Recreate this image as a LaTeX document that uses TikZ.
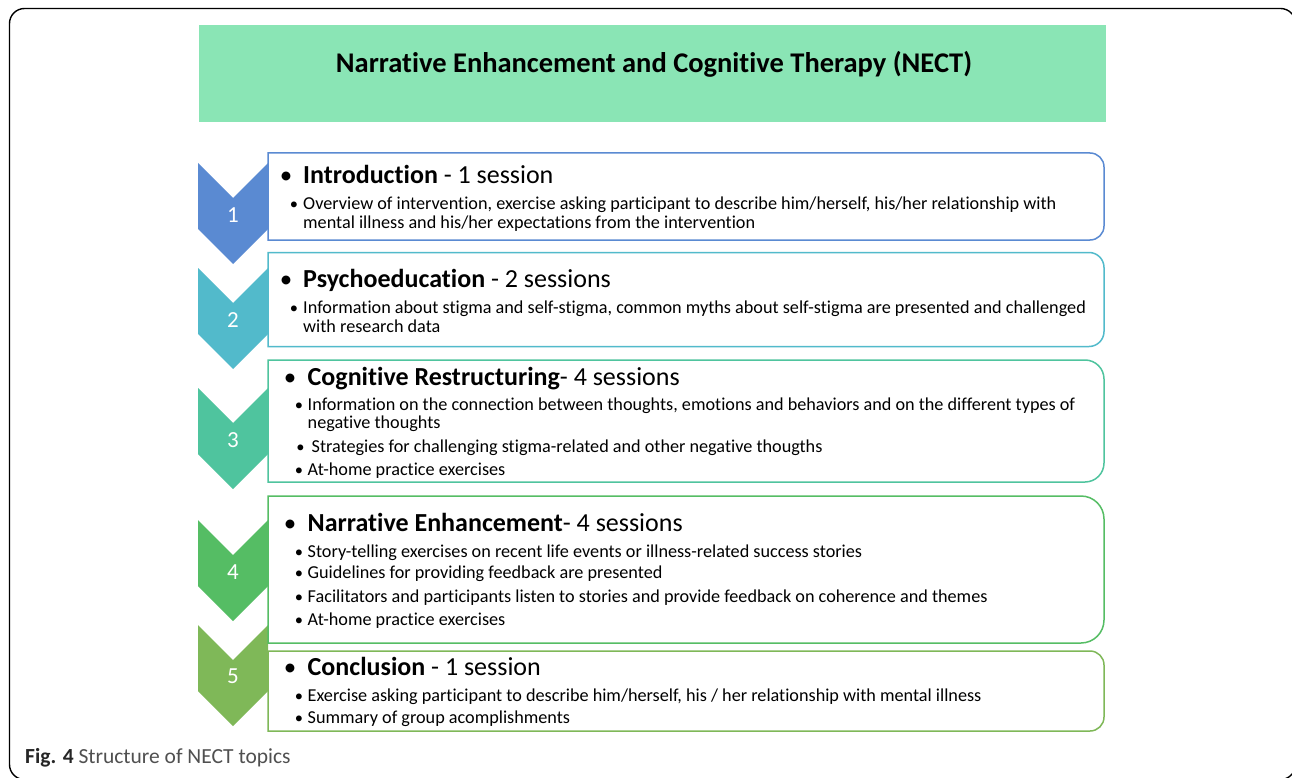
\documentclass[tikz,border=0pt]{standalone}
\usepackage{fontspec}
\setmainfont{Carlito}[Ligatures=NoCommon]
\definecolor{cA}{HTML}{5A8AD2}
\definecolor{cB}{HTML}{52BACB}
\definecolor{cC}{HTML}{4FC49E}
\definecolor{cD}{HTML}{55BD64}
\definecolor{cE}{HTML}{7FB858}
\definecolor{titlebg}{HTML}{8AE5B5}
\definecolor{capgray}{HTML}{505050}
\newcommand\nectbox[6]{%
  \draw[#6, line width=1.5pt, fill=white] (#1,#2) -- ({#3-#5},#2)
    .. controls ({#3-0.448*#5},#2) and (#3,{#2+0.448*#5}) .. (#3,{#2+#5})
    -- (#3,{#4-#5})
    .. controls (#3,{#4-0.448*#5}) and ({#3-0.448*#5},#4) .. ({#3-#5},#4)
    -- (#1,#4) -- cycle;}
\newcommand\nectchev[2]{%
  \fill[#2] (198,#1) -- (233,{#1+35}) -- (268,#1) -- (268,{#1+66}) -- (233,{#1+101}) -- (198,{#1+66}) -- cycle;}
\begin{document}
\begin{tikzpicture}[x=1pt,y=-1pt,
  sub/.style={anchor=base west, inner sep=0pt, font=\fontsize{18.2}{21}\selectfont},
  sbul/.style={anchor=base, inner sep=0pt, font=\fontsize{16.5}{19}\selectfont},
  head/.style={anchor=base west, inner sep=0pt, font=\fontsize{26}{30}\selectfont},
  hbul/.style={anchor=base, inner sep=0pt, font=\fontsize{25}{30}\selectfont},
  num/.style={inner sep=0pt, text=white, font=\fontsize{23}{28}\selectfont}]
\useasboundingbox (0,0) rectangle (1292,778);
\clip (0,0) rectangle (1292,778);
\fill[white] (0,0) rectangle (1292,778);
% outer frame
\draw[line width=1.4pt, rounded corners=15pt] (9.5,8.5) rectangle (1295.5,779.5);
% title
\fill[titlebg] (199,25) rectangle (1106,122);
\node[anchor=base, inner sep=0pt, font=\fontsize{28.5}{33}\selectfont\bfseries] (title) at (654,73) {Narrative Enhancement and Cognitive Therapy (NECT)};
% chevrons
\nectchev{163}{cA}
\nectchev{268}{cB}
\nectchev{388}{cC}
\nectchev{520}{cD}
\nectchev{625}{cE}
% boxes
\nectbox{268}{153}{1104}{240}{14}{cA}
\nectbox{268}{252.5}{1104}{346.5}{15}{cB}
\nectbox{268}{360}{1104}{482}{19}{cC}
\nectbox{268}{496}{1104}{643}{23}{cD}
\nectbox{268}{651}{1104}{731}{14}{cE}
% numbers
\node[num] (n1) at (233,215) {1};
\node[num] (n2) at (233,320.5) {2};
\node[num] (n3) at (233,440) {3};
\node[num] (n4) at (233,572) {4};
\node[num] (n5) at (233,676) {5};
% box 1
\node[hbul] (b1) at (286,183) {•};
\node[head] (h1) at (303,183) {\textbf{Introduction} - 1 session};
\node[sbul] (b1a) at (294,209) {•};
\node[sub] (t1a) at (303,209) {Overview of intervention, exercise asking participant to describe him/herself, his/her relationship with};
\node[sub] (t1b) at (303,228) {mental illness and his/her expectations from the intervention};
% box 2
\node[hbul] (b2) at (286,287) {•};
\node[head] (h2) at (303,287) {\textbf{Psychoeducation} - 2 sessions};
\node[sbul] (b2a) at (294,313) {•};
\node[sub] (t2a) at (303,313) {Information about stigma and self-stigma, common myths about self-stigma are presented and challenged};
\node[sub] (t2b) at (303,332) {with research data};
% box 3
\node[hbul] (b3) at (290,385) {•};
\node[head] (h3) at (307.5,385) {\textbf{Cognitive Restructuring}- 4 sessions};
\node[sbul] (b3a) at (299,410) {•};
\node[sub] (t3a) at (307.5,410) {Information on the connection between thoughts, emotions and behaviors and on the different types of};
\node[sub] (t3b) at (307.5,428.5) {negative thoughts};
\node[sbul] (b3c) at (300.5,452) {•};
\node[sub] (t3c) at (311.5,452) {Strategies for challenging stigma-related and other negative thougths};
\node[sbul] (b3d) at (299,475) {•};
\node[sub] (t3d) at (307.5,475) {At-home practice exercises};
% box 4
\node[hbul] (b4) at (290,531.5) {•};
\node[head] (h4) at (307.5,531.5) {\textbf{Narrative Enhancement}- 4 sessions};
\node[sbul] (b4a) at (299,557) {•};
\node[sub] (t4a) at (307.5,557) {Story-telling exercises on recent life events or illness-related success stories};
\node[sbul] (b4b) at (299,578.5) {•};
\node[sub] (t4b) at (307.5,578.5) {Guidelines for providing feedback are presented};
\node[sbul] (b4c) at (299,602) {•};
\node[sub] (t4c) at (307.5,602) {Facilitators and participants listen to stories and provide feedback on coherence and themes};
\node[sbul] (b4d) at (299,625) {•};
\node[sub] (t4d) at (307.5,625) {At-home practice exercises};
% box 5
\node[hbul] (b5) at (290,675) {•};
\node[head] (h5) at (307.5,675) {\textbf{Conclusion} - 1 session};
\node[sbul] (b5a) at (299,701.5) {•};
\node[sub] (t5a) at (307.5,701.5) {Exercise asking participant to describe him/herself, his / her relationship with mental illness};
\node[sbul] (b5b) at (299,723.5) {•};
\node[sub] (t5b) at (307.5,723.5) {Summary of group acomplishments};
% caption
\node[anchor=base west, inner sep=0pt, font=\fontsize{21.5}{25}\selectfont, text=capgray] (cap) at (25,763) {\textbf{\color{black!85}Fig. 4} Structure of NECT topics};
\end{tikzpicture}
\end{document}
